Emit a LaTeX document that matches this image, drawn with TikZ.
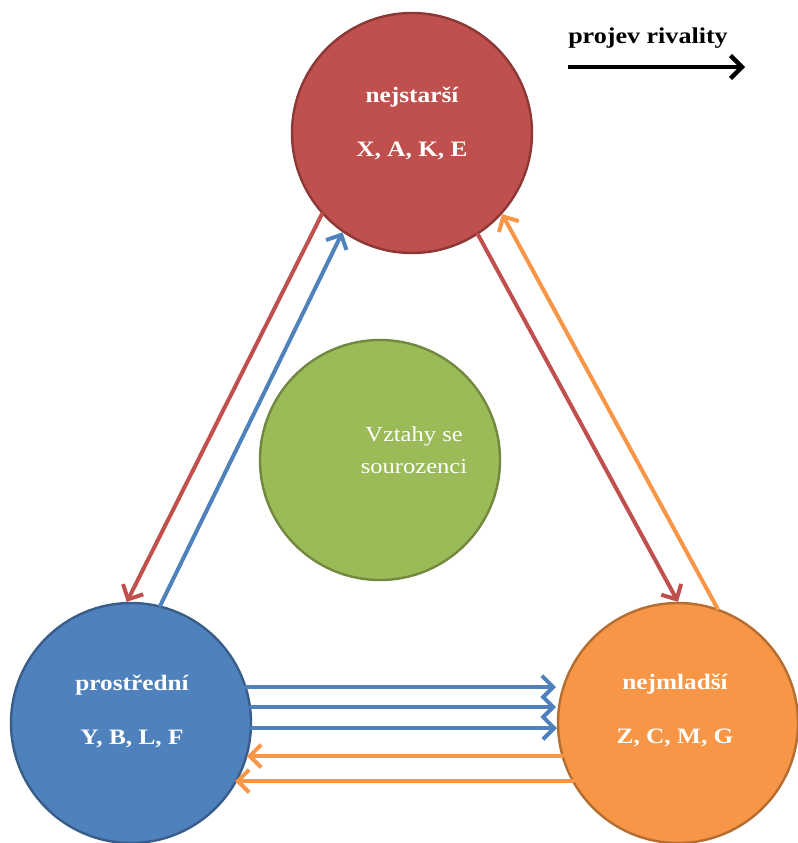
\documentclass[tikz,border=0pt]{standalone}
\usepackage{fontspec}
\setmainfont{Liberation Serif}
\usetikzlibrary{arrows.meta,calc}
\definecolor{redF}{HTML}{C0504D}
\definecolor{redD}{HTML}{8C3836}
\definecolor{greenF}{HTML}{9BBB59}
\definecolor{greenD}{HTML}{71893F}
\definecolor{blueF}{HTML}{4F81BD}
\definecolor{blueD}{HTML}{385D8A}
\definecolor{orangeF}{HTML}{F79646}
\definecolor{orangeD}{HTML}{B66D31}
\newcommand{\wide}[1]{\scalebox{1.15}[1]{#1}}
\begin{document}
\begin{tikzpicture}[x=0.75pt,y=-0.75pt,
  bubble/.style={circle, minimum size=180pt, inner sep=0pt, line width=1.8pt},
  lab/.style={anchor=base, text=white, font=\fontsize{16.5}{19}\selectfont\bfseries, inner sep=0pt},
  glab/.style={anchor=base, text=white, font=\fontsize{16}{19}\selectfont, inner sep=0pt},
  rel/.style={line width=3pt, line cap=round, -{Straight Barb[length=8.5pt,width=17pt,line width=3pt]}}
]
\useasboundingbox (0,0) rectangle (798,843);

% circles
\node[bubble, fill=redF, draw=redD] (old) at (412,133) {};
\node[bubble, fill=greenF, draw=greenD] (rel) at (380,460) {};
\node[bubble, fill=blueF, draw=blueD] (mid) at (131,723) {};
\node[bubble, fill=orangeF, draw=orangeD] (young) at (678,723) {};

% texts
\node[lab] (oldname) at (412,102) {\wide{nejstarší}};
\node[lab] (oldkids) at (412,156) {\wide{X, A, K, E}};
\node[lab] (midname) at (132,690) {\wide{prostřední}};
\node[lab] (midkids) at (132,744) {\wide{Y, B, L, F}};
\node[lab] (youngname) at (675,689) {\wide{nejmladší}};
\node[lab] (youngkids) at (675,743) {\wide{Z, C, M, G}};
\node[glab] (relA) at (414,441) {\wide{Vztahy se}};
\node[glab] (relB) at (414,473) {\wide{sourozenci}};

% legend
\node[anchor=base, inner sep=0pt, font=\fontsize{17}{20}\selectfont\bfseries] (legend) at (648,43) {\wide{projev rivality}};
\coordinate (legA) at (568,67);
\coordinate (legB) at (745,67);
\draw[line width=3.3pt, -{Straight Barb[length=8.5pt,width=17pt,line width=3.3pt]}] (legA) -- (legB);

% diagonal arrows
\draw[rel, draw=redF] (old.222) -- (mid.92);
\draw[rel, draw=blueF] (mid.76) -- (old.235);
\draw[rel, draw=redF] (old.303) -- (young.90);
\draw[rel, draw=orangeF] (young.71) -- (old.318);

% horizontal arrows
\draw[rel, draw=blueF] ($(mid.center)+(115,-36)$) -- ($(young.center)+(-122,-36)$);
\draw[rel, draw=blueF] ($(mid.center)+(120,-16)$) -- ($(young.center)+(-122,-16)$);
\draw[rel, draw=blueF] ($(mid.center)+(121,5)$) -- ($(young.center)+(-121,5)$);
\draw[rel, draw=orangeF] ($(young.center)+(-116,33)$) -- ($(mid.center)+(116,33)$);
\draw[rel, draw=orangeF] ($(young.center)+(-105,58)$) -- ($(mid.center)+(104,58)$);
\end{tikzpicture}
\end{document}
